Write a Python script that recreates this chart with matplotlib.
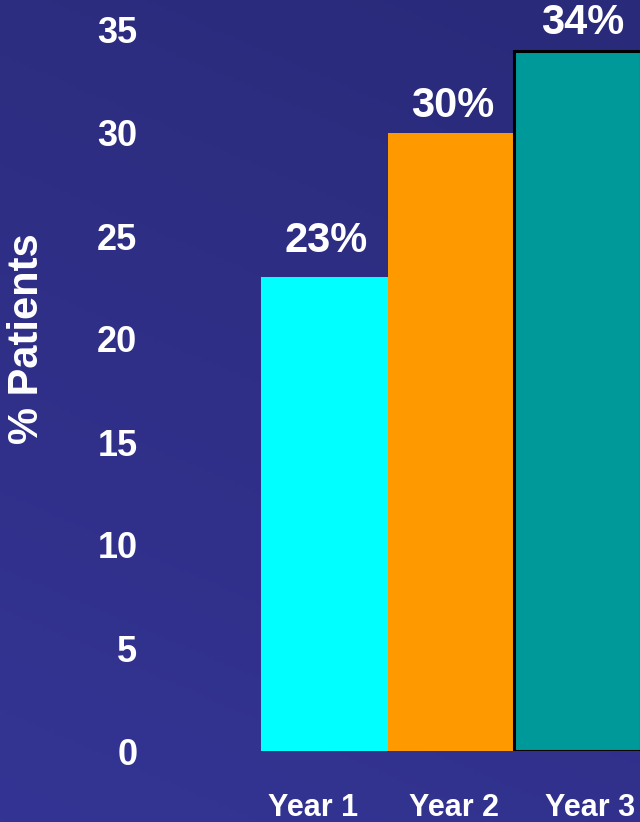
import numpy as np
import matplotlib
matplotlib.use("Agg")
import matplotlib.pyplot as plt
from matplotlib.transforms import ScaledTranslation

years = ["Year 1", "Year 2", "Year 3"]
pct_patients = [23, 30, 34]
bar_colors = ["#00FFFF", "#FF9900", "#009999"]
edge_colors = ["none", "none", "black"]
y_ticks = [0, 5, 10, 15, 20, 25, 30, 35]

plt.rcParams["font.family"] = ["Liberation Sans", "DejaVu Sans"]
plt.rcParams["font.weight"] = "bold"

fig = plt.figure(figsize=(6.4, 8.22), dpi=100)

# slide-style navy gradient background
bg = fig.add_axes([0, 0, 1, 1], zorder=-10)
yy, xx = np.mgrid[0:1:200j, 0:1:200j]
t = 0.75 * yy + 0.25 * (1 - xx)
top = np.array([42, 42, 122]) / 255
bottom = np.array([52, 52, 148]) / 255
img = top[None, None, :] * (1 - t[..., None]) + bottom[None, None, :] * t[..., None]
bg.imshow(img, aspect="auto", extent=[0, 1, 1, 0])
bg.axis("off")

ax = fig.add_axes([261 / 640, 71 / 822, 379 / 640, 751 / 822])
ax.patch.set_alpha(0)
x = np.arange(len(years))
bars = ax.bar(x, pct_patients, width=1.0, color=bar_colors,
              edgecolor=edge_colors, linewidth=2.2)

# value labels sit just above each bar (baseline offsets in points)
label_gaps = [18, 11.5, 12]
label_dx = [1, 1, 4]
for xi, v, gap, dx in zip(x, pct_patients, label_gaps, label_dx):
    ax.annotate(f"{v}%", (xi, v), xytext=(dx, gap), textcoords="offset points",
                ha="center", va="baseline", color="white", fontsize=30,
                fontweight="bold", annotation_clip=False)

ax.set_xlim(-0.5, 2.495)
ax.set_ylim(0, 751 / 20.6)
ax.set_yticks(y_ticks)
ax.set_yticklabels([str(v) for v in y_ticks])
ax.set_xticks(x)
ax.set_xticklabels(years)
ax.tick_params(axis="y", length=0, pad=89, labelsize=26, labelcolor="white")
ax.tick_params(axis="x", length=0, pad=30, labelsize=22, labelcolor="white")
for lbl in ax.get_yticklabels():
    lbl.set_fontweight("bold")
# category labels nudged sideways (in points) under their bars
tick_dx = [-8, 2, 9.5]
for lbl, dx in zip(ax.get_xticklabels(), tick_dx):
    lbl.set_fontweight("bold")
    lbl.set_transform(lbl.get_transform()
                      + ScaledTranslation(dx / 72, 0, fig.dpi_scale_trans))
for s in ax.spines.values():
    s.set_visible(False)

ax.set_ylabel("% Patients", fontsize=30, fontweight="bold", color="white")
ax.yaxis.set_label_coords(-0.617, 0.549)
ax.yaxis.label.set_va("center")

fig.savefig("out.png", dpi=100)
